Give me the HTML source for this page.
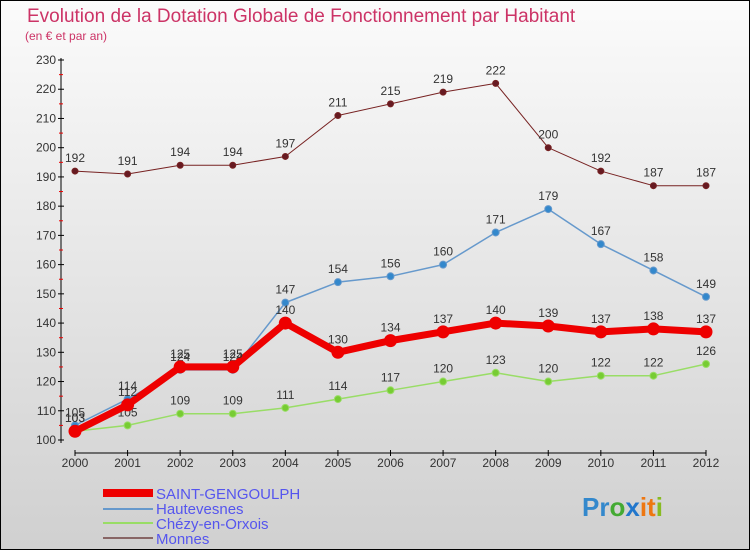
<!DOCTYPE html>
<html><head><meta charset="utf-8"><style>
body{margin:0;width:750px;height:550px;overflow:hidden;font-family:"Liberation Sans",sans-serif}
</style></head><body>
<svg width="750" height="550" id="c" xmlns="http://www.w3.org/2000/svg">
<defs><linearGradient id="bg" x1="0" y1="0" x2="0" y2="1"><stop offset="0" stop-color="#fbfbfb"/><stop offset="1" stop-color="#d0d0d0"/></linearGradient></defs>
<rect x="0.5" y="0.5" width="749" height="549" fill="url(#bg)" stroke="#000"/>
<text x="27" y="22" font-size="19" fill="#cc3366">Evolution de la Dotation Globale de Fonctionnement par Habitant</text>
<text x="25" y="40" font-size="12" fill="#cc3366">(en € et par an)</text>
<g id="axes"></g><g id="series"></g>
<g>
<line x1="103" y1="493" x2="153" y2="493" stroke="#ee0000" stroke-width="8"/>
<text x="156" y="499" font-size="15" fill="#5555ee">SAINT-GENGOULPH</text>
<line x1="103" y1="509" x2="153" y2="509" stroke="#6699cc" stroke-width="2"/>
<text x="156" y="514" font-size="15" fill="#5555ee">Hautevesnes</text>
<line x1="103" y1="523" x2="153" y2="523" stroke="#99dd66" stroke-width="2"/>
<text x="156" y="529" font-size="15" fill="#5555ee">Chézy-en-Orxois</text>
<line x1="103" y1="538" x2="153" y2="538" stroke="#886666" stroke-width="2"/>
<text x="156" y="544" font-size="15" fill="#5555ee">Monnes</text>
</g>
<text x="582" y="516" font-size="26" font-weight="bold"><tspan fill="#3388cc">Pr</tspan><tspan fill="#44aa33">o</tspan><tspan fill="#2277cc">x</tspan><tspan fill="#ee7711">it</tspan><tspan fill="#88bb22">i</tspan></text>
</svg>
<script>
const years=[2000,2001,2002,2003,2004,2005,2006,2007,2008,2009,2010,2011,2012];
const sg=[103,112,125,125,140,130,134,137,140,139,137,138,137];
const haut=[105,114,124,124,147,154,156,160,171,179,167,158,149];
const chezy=[103,105,109,109,111,114,117,120,123,120,122,122,126];
const monnes=[192,191,194,194,197,211,215,219,222,200,192,187,187];
const yTicks=[100,110,120,130,140,150,160,170,180,190,200,210,220,230];
const NS="http://www.w3.org/2000/svg";
const X=i=>75+i*(706-75)/12;
const Y=v=>440-(v-100)*(380/130);
function el(t,a,p){const e=document.createElementNS(NS,t);for(const k in a)e.setAttribute(k,a[k]);p.appendChild(e);return e;}
const ax=document.getElementById('axes');
el('line',{x1:61,y1:58,x2:61,y2:443,stroke:'#000'},ax);
el('line',{x1:75,y1:453,x2:706,y2:453,stroke:'#000'},ax);
yTicks.forEach(v=>{const y=Y(v);el('line',{x1:58,y1:y,x2:64,y2:y,stroke:'#000'},ax);
 if(v<230)el('line',{x1:59,y1:y-14.6,x2:63,y2:y-14.6,stroke:'#e00'},ax);
 const t=el('text',{x:56,y:y+4,'font-size':12,'text-anchor':'end',fill:'#333'},ax);t.textContent=v;
 
 });
years.forEach((yr,i)=>{const x=X(i);el('line',{x1:x,y1:450,x2:x,y2:456,stroke:'#000'},ax);
 const t=el('text',{x:x,y:467,'font-size':12,'text-anchor':'middle',fill:'#333'},ax);t.textContent=yr;
 
 });
const sr=document.getElementById('series');
function draw(data,name,color,w,r,dot){
 const g=el('g',{},sr);
 
 
 el('polyline',{points:data.map((v,i)=>X(i)+','+Y(v)).join(' '),fill:'none',stroke:color,'stroke-width':w,'stroke-linejoin':'round'},g);
 data.forEach((v,i)=>{const c=el('circle',{cx:X(i),cy:Y(v),r:r,fill:dot,stroke:color,'stroke-width':1},g);
  
  
  const t=el('text',{x:X(i),y:Y(v)-9,'font-size':12,'text-anchor':'middle',fill:'#333'},g);t.textContent=v;
  
  });
}
draw(monnes,'series-monnes','#772222',1,3,'#661a22');
draw(chezy,'series-chezy','#99dd66',1.5,3.5,'#77cc33');
draw(haut,'series-hautevesnes','#6699cc',1.5,3.5,'#3388cc');
draw(sg,'series-saint-gengoulph','#ee0000',7,6,'#ee0000');
</script>
</body></html>
